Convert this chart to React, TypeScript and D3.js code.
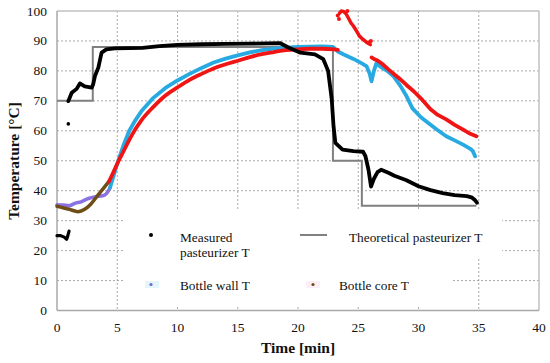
import React from "react";
import * as d3 from "d3";

type P = [number, number];

const xTicks = [0, 5, 10, 15, 20, 25, 30, 35, 40];
const yTicks = [0, 10, 20, 30, 40, 50, 60, 70, 80, 90, 100];

const theoretical: P[] = [[0, 70], [2.97, 88], [22.9, 50], [25.3, 35], [34.8, 35]];

const measuredStart: P[] = [[0, 25], [0.3, 25], [0.6, 24.5], [0.8, 23.8], [0.9, 25], [1.0, 26.5]];
const measuredOutlier: P[] = [[0.94, 62.3]];
const measured: P[] = [
  [0.94, 69.9], [1.22, 72.7], [1.63, 74], [1.9, 75.8], [2.3, 74.8], [2.88, 74.4], [3.0, 75.5],
  [3.15, 78.3], [3.43, 81.1], [3.7, 86.1], [4.1, 87.2], [4.8, 87.5], [6, 87.6], [7.1, 87.7],
  [8.5, 88.3], [10, 88.7], [12, 88.9], [14, 89], [16, 89.1], [18.5, 89.3], [19.2, 87.8],
  [20.2, 86.1], [21.4, 85.5], [22.1, 83.9], [22.5, 80], [22.8, 70.5], [22.95, 61.5], [23.1, 56],
  [23.7, 53.7], [24.6, 53.2], [25.4, 53], [25.6, 51.5], [25.85, 47], [26.06, 41.4], [26.3, 44],
  [26.6, 46.2], [26.9, 47], [27.5, 46], [28, 45], [29, 43.5], [30, 41.5], [31, 40.2], [32, 39.2],
  [33, 38.5], [34, 38.2], [34.4, 37.8], [34.7, 36.8], [34.85, 36],
];

const wallStart: P[] = [
  [0, 35.3], [0.5, 35.2], [1, 35], [1.5, 35.8], [2, 36.3], [2.6, 37.4], [3.2, 38], [3.8, 38.3],
  [4.1, 39], [4.4, 41],
];
const wall: P[] = [
  [4.4, 41], [4.7, 45], [5, 49], [5.5, 55], [6, 60], [6.5, 63.5], [7, 66.5], [8, 71], [9, 74.3],
  [10, 76.8], [11, 79], [12, 81], [13, 82.8], [14, 84.1], [15, 85.2], [16, 86.2], [17, 86.9],
  [18, 87.4], [19, 87.8], [20, 88], [21, 88.1], [22, 88.2], [22.9, 88], [23.3, 86.5],
  [23.8, 85.5], [24.6, 84], [25.3, 82.5], [25.7, 81.5], [25.95, 79], [26.1, 76.5], [26.3, 80],
  [26.5, 82.5], [26.8, 81.5], [27.4, 80], [27.9, 78.3], [28.5, 75], [29.0, 71.6], [29.5, 67.5],
  [30.2, 64.5], [31.0, 62], [31.6, 60.2], [32.3, 58.2], [33.0, 56.8], [33.7, 55.4], [34.3, 54],
  [34.5, 53.3], [34.7, 51.5],
];

const coreStart: P[] = [
  [0, 34.8], [0.5, 34.3], [1, 33.8], [1.75, 33], [2.3, 33.8], [2.8, 35.5], [3.4, 38.5],
  [4.0, 41.5], [4.3, 43],
];
const core: P[] = [
  [4.3, 43], [4.6, 45.5], [5, 49], [5.5, 53], [6, 57], [6.5, 60.5], [7, 63.5], [8, 68],
  [9, 71.8], [10, 74.5], [11, 77], [12, 79], [13, 80.8], [14, 82.2], [15, 83.4], [16, 84.6],
  [17, 85.6], [18, 86.3], [19, 86.9], [20, 87.2], [21, 87.4], [22, 87.4], [23, 87.2], [23.3, 87],
];
const coreHigh: P[] = [
  [23.45, 99.3], [23.6, 100], [23.8, 99.8], [24.0, 99], [24.2, 97.5], [24.4, 96], [24.6, 95],
  [24.9, 93], [25.1, 91.6], [25.4, 90.5], [25.7, 89.5], [26.0, 88.8],
];
const coreHighDots: P[] = [[23.3, 98.5], [23.4, 97.3], [24.1, 100], [26.05, 90], [25.9, 89.6]];
const coreLate: P[] = [
  [26.1, 84.5], [26.3, 84], [26.6, 83.5], [27.0, 82.3], [27.5, 80.5], [28, 78.8], [28.5, 77.2],
  [29, 75.3], [29.6, 73.2], [30.3, 70.4], [31, 67.2], [31.6, 65.3], [32.3, 63.8], [33, 62],
  [33.7, 60.4], [34.3, 59], [34.8, 58.2],
];

const legendLabels = ["Measured", "pasteurizer T", "Theoretical pasteurizer T", "Bottle wall T", "Bottle core T"];

const W = 550, H = 363;
const X0 = 57, X1 = 539, YT = 11, YB = 310.5;

export default function App() {
  const x = d3.scaleLinear().domain([0, 40]).range([X0, X1]);
  const y = d3.scaleLinear().domain([0, 100]).range([YB, YT]);
  const lin = d3.line<P>().x(d => x(d[0])).y(d => y(d[1]));
  const smooth = d3.line<P>().x(d => x(d[0])).y(d => y(d[1])).curve(d3.curveMonotoneX);
  const step = d3.line<P>().x(d => x(d[0])).y(d => y(d[1])).curve(d3.curveStepAfter);

  const BLUE = "#27a9e1";
  const RED = "#f01414";
  const BROWN = "#6e4d16";
  const PURPLE = "#8a72e2";
  const serif = "Liberation Serif, Times New Roman, Times, serif";
  const ts = { fontFamily: serif };

  return (
    <svg width={W} height={H} style={{ position: "absolute", left: 0, top: 0, fontFamily: serif }}>
      <rect width={W} height={H} fill="#fff" />
      {yTicks.filter(v => v > 0 && v < 100).map(v => (
        <line key={"gy" + v} x1={X0} x2={X1} y1={y(v)} y2={y(v)} stroke="#a0a0a0" strokeWidth={0.9} strokeDasharray="2,2" />
      ))}
      {xTicks.filter(v => v > 0 && v < 40).map(v => (
        <line key={"gx" + v} x1={x(v)} x2={x(v)} y1={YT} y2={YB} stroke="#a0a0a0" strokeWidth={0.9} strokeDasharray="2,2" />
      ))}
      <line x1={X0} x2={X1} y1={YT} y2={YT} stroke="#c0c0c0" strokeWidth={1.5} />
      <line x1={X1} x2={X1} y1={YT} y2={YB} stroke="#c0c0c0" strokeWidth={1.5} />
      <rect x={125} y={211} width={377} height={48} fill="#fff" />
      <rect x={125} y={258} width={326} height={48} fill="#fff" />
      <line x1={X0} x2={X0} y1={YT} y2={YB} stroke="#a8a8a8" strokeWidth={1.5} />
      <line x1={X0} x2={X1} y1={YB} y2={YB} stroke="#a8a8a8" strokeWidth={1.5} />

      {yTicks.map(v => (
        <text key={"ty" + v} x={47} y={y(v) + 4.5} fontSize={13.5} textAnchor="end" fill="#111" style={ts}>{v}</text>
      ))}
      {xTicks.map(v => (
        <text key={"tx" + v} x={x(v)} y={332} fontSize={13.5} textAnchor="middle" fill="#111" style={ts}>{v}</text>
      ))}
      <text x={298} y={353} fontSize={15.5} fontWeight="bold" textAnchor="middle" fill="#111" style={ts}>Time [min]</text>
      <text transform="translate(19,161) rotate(-90)" fontSize={15.5} fontWeight="bold" textAnchor="middle" fill="#111" style={ts}>Temperature [°C]</text>

      <path d={step(theoretical) || ""} fill="none" stroke="#808080" strokeWidth={2} />

      <path d={smooth(wallStart) || ""} fill="none" stroke={PURPLE} strokeWidth={3.5} strokeLinecap="round" />
      <path d={lin(wall) || ""} fill="none" stroke={BLUE} strokeWidth={3.8} strokeLinecap="round" strokeLinejoin="round" />
      <path d={smooth(coreStart) || ""} fill="none" stroke={BROWN} strokeWidth={3.5} strokeLinecap="round" />
      <path d={smooth(core) || ""} fill="none" stroke={RED} strokeWidth={3.8} strokeLinecap="round" />
      <path d={lin(coreHigh) || ""} fill="none" stroke={RED} strokeWidth={3.5} strokeLinecap="round" strokeLinejoin="round" />
      {coreHighDots.map((d, i) => (
        <circle key={"chd" + i} cx={x(d[0])} cy={y(d[1])} r={2} fill={RED} />
      ))}
      <path d={lin(coreLate) || ""} fill="none" stroke={RED} strokeWidth={3.8} strokeLinecap="round" strokeLinejoin="round" />

      <path d={lin(measuredStart) || ""} fill="none" stroke="#000" strokeWidth={3.2} strokeLinecap="round" strokeLinejoin="round" />
      {measuredOutlier.map((d, i) => (
        <circle key={"mo" + i} cx={x(d[0])} cy={y(d[1])} r={1.8} fill="#000" />
      ))}
      <path d={lin(measured) || ""} fill="none" stroke="#000" strokeWidth={3.8} strokeLinecap="round" strokeLinejoin="round" />

      <circle cx={151} cy={235} r={2} fill="#000" />
      <text x={180} y={242} fontSize={13.3} fill="#111" style={ts}>{legendLabels[0]}</text>
      <text x={180} y={257} fontSize={13.3} fill="#111" style={ts}>{legendLabels[1]}</text>
      <line x1={300} x2={327} y1={235} y2={235} stroke="#808080" strokeWidth={2} />
      <text x={349} y={242} fontSize={13.3} fill="#111" style={ts}>{legendLabels[2]}</text>
      <rect x={145} y={281} width={14} height={7} fill="#e4f6fb" />
      <circle cx={151} cy={284.5} r={1.6} fill="#6a6ad8" />
      <text x={180} y={290} fontSize={13.3} fill="#111" style={ts}>{legendLabels[3]}</text>
      <rect x={306} y={281} width={14} height={7} fill="#fbeef6" />
      <circle cx={313} cy={284.5} r={1.6} fill={BROWN} />
      <text x={339} y={290} fontSize={13.3} fill="#111" style={ts}>{legendLabels[4]}</text>
    </svg>
  );
}
